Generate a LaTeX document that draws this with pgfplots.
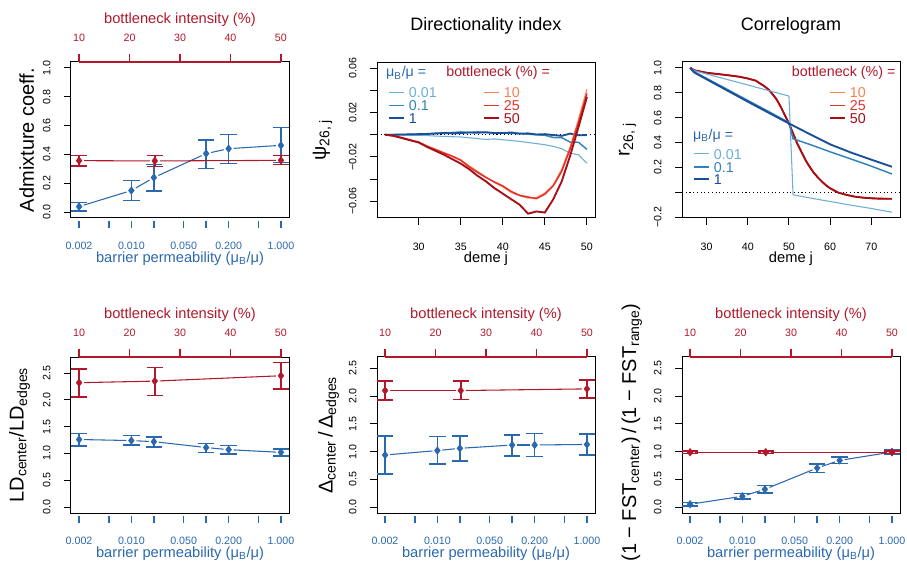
\documentclass[border=0pt]{standalone}
\usepackage{pgfplots}
\pgfplotsset{compat=1.18}
\usepackage{fontspec}
\setmainfont{Liberation Sans}
\definecolor{cb}{HTML}{2A68AF}
\definecolor{cr}{HTML}{B2182B}
\definecolor{b1}{HTML}{6BAED6}
\definecolor{b2}{HTML}{3182BD}
\definecolor{b3}{HTML}{1A4F96}
\definecolor{r1}{HTML}{FC7F4F}
\definecolor{r2}{HTML}{E5302A}
\definecolor{r3}{HTML}{A50F15}
\newcommand\tlf{\fontsize{8}{9.6}\selectfont}
\newcommand\alf{\fontsize{11}{13}\selectfont}
\newcommand\ylf{\fontsize{15}{18}\selectfont}
\newcommand\ttf{\fontsize{13.5}{16}\selectfont}
\newcommand\lgf{\fontsize{10.7}{12.8}\selectfont}
\pgfplotsset{
 every axis title shift=0pt,
 panel/.style={scale only axis, width=163.5pt, height=117pt, anchor=south west,
  axis line style={line width=0.75pt, black},
  tick align=outside, major tick length=5.25pt,
  every tick/.style={line width=0.75pt, black},
  tick label style={font=\tlf},
  xtick pos=left, ytick pos=left,
  scaled ticks=false,
  yticklabel style={rotate=90, anchor=center},
  yticklabel shift=12.95pt,
  xticklabel style={anchor=center},
  xticklabel shift=15.75pt,
  xlabel style={font=\alf, at={(axis description cs:0.5,-0.26)}, anchor=center},
  ylabel style={font=\ylf, at={(axis description cs:-0.222,0.5)}, anchor=center},
  minor tick num=0,
 },
 perm/.style={panel, xmin=0.0015594, xmax=1.2823, clip=false,
   xtick={0.002,0.005,0.01,0.02,0.05,0.1,0.2,0.5,1},
   xticklabels={0.002,,0.010,,0.050,,0.200,,1.000},
   xtick style={cb, line width=1pt, yshift=-2.25pt},
   xticklabel style={text=cb},
   xlabel={barrier permeability (μ\textsubscript{B}/μ)}, xlabel style={text=cb}},
 bott/.style={panel, xmin=8.4, xmax=51.6, clip=false, axis x line*=top, hide y axis,
   xtick pos=right, xticklabel pos=right,
   axis line style={draw=none},
   xtick={10,20,30,40,50}, xticklabels={10,20,30,40,50},
   xtick style={cr, line width=1pt}, major tick length=6.25pt,
   xticklabel style={text=cr}, xticklabel shift=11.95pt,
   xlabel={bottleneck intensity (\%)},
   xlabel style={text=cr, at={(axis description cs:0.5,1.27)}, anchor=center}},
 eb/.style={error bars/y dir=both, error bars/y explicit,
   error bars/error bar style={line width=1.1pt},
   error bars/error mark options={rotate=90, line width=1.1pt, mark size=6.2pt}},
 bpt/.style={cb, only marks, mark=diamond*, mark size=2.7pt, mark options={line width=0.6pt}, eb},
 rpt/.style={cr, only marks, mark=diamond*, mark size=2.7pt, mark options={line width=0.6pt}, eb},
}
% connecting segment with gaps at both ends (R type "b")
\newcommand\seg[5]{\addplot[#1, line width=0.8pt, shorten >=3.75pt, shorten <=3.75pt] coordinates {(#2,#3) (#4,#5)};}
\newcommand\topline{\draw[cr, line width=1pt] (rel axis cs:0.037037,1) -- (rel axis cs:0.962963,1);}
\begin{document}
\begin{tikzpicture}
\useasboundingbox (0,0) rectangle (680.25pt,420.75pt);

% ---------------- Panel 1: Admixture
\begin{axis}[xmode=log, perm, at={(53.25pt,257.25pt)}, ymin=-0.04, ymax=1.04,
  ytick={0,0.2,0.4,0.6,0.8,1}, yticklabels={0.0,0.2,0.4,0.6,0.8,1.0},
  ylabel={Admixture coeff.}, ylabel style={at={(axis description cs:-0.203,0.5)}}]
\seg{cb}{0.002}{0.039}{0.01}{0.150}
\seg{cb}{0.01}{0.150}{0.02}{0.240}
\seg{cb}{0.02}{0.240}{0.1}{0.406}
\seg{cb}{0.1}{0.406}{0.2}{0.440}
\seg{cb}{0.2}{0.440}{1}{0.463}
\addplot[bpt] coordinates {
 (0.002,0.039) += (0,0.030) -= (0,0.030)
 (0.01,0.150) += (0,0.069) -= (0,0.069)
 (0.02,0.240) += (0,0.092) -= (0,0.093)
 (0.1,0.406) += (0,0.094) -= (0,0.102)
 (0.2,0.440) += (0,0.099) -= (0,0.104)
 (1,0.463) += (0,0.122) -= (0,0.117)
};
\end{axis}
\begin{axis}[bott, at={(53.25pt,257.25pt)}, ymin=-0.04, ymax=1.04]
\topline
\seg{cr}{10}{0.357}{25}{0.355}
\seg{cr}{25}{0.355}{50}{0.359}
\addplot[rpt] coordinates {
 (10,0.357) += (0,0.037) -= (0,0.037)
 (25,0.355) += (0,0.037) -= (0,0.039)
 (50,0.359) += (0,0.035) -= (0,0.030)
};
\end{axis}

% ---------------- Panel 2: Directionality index
\begin{axis}[panel, at={(282.75pt,257.25pt)}, xmin=25.04, xmax=50.96, ymin=-0.0749, ymax=0.0654,
  xtick={30,35,40,45,50}, xticklabels={30,35,40,45,50}, xticklabel shift=16.25pt,
  ytick={-0.06,-0.04,-0.02,0,0.02,0.04,0.06}, yticklabels={−0.06,,−0.02,,0.02,,0.06},
  xlabel={deme j}, ylabel={ψ\textsubscript{26, j}},
  ylabel style={at={(axis description cs:-0.25,0.5)}},
  title={Directionality index}, title style={font=\ttf, at={(axis description cs:0.5,1.231)}, anchor=center}]
\addplot[black, dotted, line width=0.8pt] coordinates {(25.04,0) (50.96,0)};
\addplot[b1, line width=0.8pt] table {
26 0
27 -0.0001
28 -0.0002
29 -0.0004
30 -0.0006
31 -0.0008
32 -0.0012
33 -0.0015
34 -0.0018
35 -0.002
36 -0.0027
37 -0.0035
38 -0.0042
39 -0.0038
40 -0.0045
41 -0.0052
42 -0.006
43 -0.007
44 -0.008
45 -0.009
46 -0.0105
47 -0.0125
48 -0.0167
49 -0.018
50 -0.0257
};
\addplot[b2, line width=1.1pt] table {
26 0
27 0.0001
28 0.0001
29 0.0003
30 0.0005
31 0.0008
32 0.001
33 0.0018
34 0.002
35 0.0025
36 0.002
37 0.0025
38 0.002
39 0.0015
40 0.0015
41 0.0012
42 0.001
43 0.0005
44 0.0
45 -0.0005
46 -0.0025
47 -0.0027
48 -0.0066
49 -0.0068
50 -0.0132
};
\addplot[b3, line width=1.4pt] table {
26 0
27 0
28 0.0002
29 0.0003
30 0.0005
31 0.0007
32 0.0012
33 0.0015
34 0.0012
35 0.0015
36 0.002
37 0.0018
38 0.0022
39 0.0015
40 0.0015
41 0.002
42 0.001
43 0.0012
44 0.0002
45 0.0005
46 -0.0003
47 -0.001
48 0.001
49 -0.0005
50 -0.0003
};
\addplot[r1, line width=0.8pt] table {
26 0
27 -0.001
28 -0.0025
29 -0.0045
30 -0.0065
31 -0.010
32 -0.013
33 -0.016
34 -0.019
35 -0.0225
36 -0.028
37 -0.033
38 -0.038
39 -0.043
40 -0.047
41 -0.052
42 -0.055
43 -0.057
44 -0.0565
45 -0.0525
46 -0.045
47 -0.031
48 -0.011
49 0.014
50 0.041
};
\addplot[r2, line width=1.1pt] table {
26 0
27 -0.001
28 -0.0028
29 -0.005
30 -0.0068
31 -0.0105
32 -0.0135
33 -0.0165
34 -0.0195
35 -0.023
36 -0.029
37 -0.034
38 -0.0385
39 -0.0425
40 -0.046
41 -0.051
42 -0.0545
43 -0.056
44 -0.0575
45 -0.0535
46 -0.046
47 -0.033
48 -0.013
49 0.011
50 0.037
};
\addplot[r3, line width=1.4pt] table {
26 0
27 -0.001
28 -0.003
29 -0.005
30 -0.007
31 -0.011
32 -0.0145
33 -0.018
34 -0.022
35 -0.026
36 -0.031
37 -0.037
38 -0.042
39 -0.048
40 -0.053
41 -0.058
42 -0.063
43 -0.071
44 -0.069
45 -0.070
46 -0.058
47 -0.042
48 -0.019
49 0.007
50 0.034
};
\node[anchor=base west, inner sep=0, text=cb, font=\lgf] at (axis description cs:0.041,0.905) {μ\textsubscript{B}/μ =};
\node[anchor=base west, inner sep=0, text=b1, font=\lgf] at (axis description cs:0.055,0.773) {\rule[0.33em]{11.25pt}{0.8pt}\hspace{3.5pt}0.01};
\node[anchor=base west, inner sep=0, text=b2, font=\lgf] at (axis description cs:0.055,0.687) {\rule[0.33em]{11.25pt}{1.1pt}\hspace{3.5pt}0.1};
\node[anchor=base west, inner sep=0, text=b3, font=\lgf] at (axis description cs:0.055,0.604) {\rule[0.33em]{11.25pt}{1.4pt}\hspace{3.5pt}1};
\node[anchor=base west, inner sep=0, text=cr, font=\lgf] at (axis description cs:0.317,0.905) {bottleneck (\%) =};
\node[anchor=base west, inner sep=0, text=r1, font=\lgf] at (axis description cs:0.491,0.773) {\rule[0.33em]{11.25pt}{0.8pt}\hspace{3.5pt}10};
\node[anchor=base west, inner sep=0, text=r2, font=\lgf] at (axis description cs:0.491,0.687) {\rule[0.33em]{11.25pt}{1.1pt}\hspace{3.5pt}25};
\node[anchor=base west, inner sep=0, text=r3, font=\lgf] at (axis description cs:0.491,0.604) {\rule[0.33em]{11.25pt}{1.4pt}\hspace{3.5pt}50};
\end{axis}

% ---------------- Panel 3: Correlogram
\begin{axis}[panel, at={(511.5pt,257.25pt)}, xmin=24.04, xmax=76.96, ymin=-0.2064, ymax=1.0464,
  xtick={30,40,50,60,70}, xticklabels={30,40,50,60,70}, xticklabel shift=16.25pt,
  ytick={-0.2,0,0.2,0.4,0.6,0.8,1}, yticklabels={−0.2,,0.2,0.4,0.6,0.8,1.0},
  xlabel={deme j}, ylabel={r\textsubscript{26, j}},
  ylabel style={at={(axis description cs:-0.25,0.5)}},
  title={Correlogram}, title style={font=\ttf, at={(axis description cs:0.5,1.231)}, anchor=center}]
\addplot[black, dotted, line width=0.8pt] coordinates {(24.04,0) (76.96,0)};
\addplot[r1, line width=0.8pt] table {
26 1.0
27 0.98
30 0.96
35 0.941
38 0.928
40 0.914
42 0.896
43 0.874
44 0.853
45 0.826
46 0.789
47 0.746
48 0.687
49 0.62
50 0.553
51 0.473
52 0.393
53 0.326
54 0.26
55 0.206
56 0.158
57 0.12
58 0.086
59 0.056
60 0.032
62 -0.003
64 -0.021
66 -0.035
68 -0.043
70 -0.048
72 -0.051
75 -0.052
};
\addplot[r2, line width=1.1pt] table {
26 1.0
27 0.98
30 0.96
35 0.941
38 0.928
40 0.914
42 0.896
43 0.874
44 0.853
45 0.826
46 0.789
47 0.746
48 0.687
49 0.62
50 0.553
51 0.473
52 0.393
53 0.326
54 0.26
55 0.206
56 0.158
57 0.12
58 0.086
59 0.056
60 0.032
62 -0.003
64 -0.021
66 -0.035
68 -0.043
70 -0.048
72 -0.051
75 -0.052
};
\addplot[r3, line width=1.4pt] table {
26 1.0
27 0.98
30 0.96
35 0.941
38 0.928
40 0.914
42 0.896
43 0.874
44 0.853
45 0.826
46 0.789
47 0.746
48 0.687
49 0.62
50 0.553
51 0.473
52 0.393
53 0.326
54 0.26
55 0.206
56 0.158
57 0.12
58 0.086
59 0.056
60 0.032
62 -0.003
64 -0.021
66 -0.035
68 -0.043
70 -0.048
72 -0.051
75 -0.052
};
\addplot[b1, line width=0.8pt] table {
26 1.0
27 0.977
30 0.950
35 0.906
40 0.862
45 0.817
50 0.773
51 -0.02
55 -0.045
60 -0.074
65 -0.103
70 -0.13
75 -0.16
};
\addplot[b2, line width=1.1pt] table {
26 1.0
27 0.968
30 0.915
35 0.827
40 0.738
45 0.65
50 0.56
51 0.43
55 0.385
60 0.325
65 0.268
70 0.21
75 0.147
};
\addplot[b3, line width=1.4pt] table {
26 1.0
27 0.962
30 0.908
35 0.818
40 0.728
45 0.64
50 0.553
55 0.468
60 0.385
65 0.32
70 0.262
75 0.205
};
\node[anchor=base west, inner sep=0, text=cr, font=\lgf] at (axis description cs:0.503,0.905) {bottleneck (\%) =};
\node[anchor=base west, inner sep=0, text=r1, font=\lgf] at (axis description cs:0.679,0.773) {\rule[0.33em]{11.25pt}{0.8pt}\hspace{3.5pt}10};
\node[anchor=base west, inner sep=0, text=r2, font=\lgf] at (axis description cs:0.679,0.687) {\rule[0.33em]{11.25pt}{1.1pt}\hspace{3.5pt}25};
\node[anchor=base west, inner sep=0, text=r3, font=\lgf] at (axis description cs:0.679,0.604) {\rule[0.33em]{11.25pt}{1.4pt}\hspace{3.5pt}50};
\node[anchor=base west, inner sep=0, text=cb, font=\lgf] at (axis description cs:0.050,0.506) {μ\textsubscript{B}/μ =};
\node[anchor=base west, inner sep=0, text=b1, font=\lgf] at (axis description cs:0.055,0.378) {\rule[0.33em]{11.25pt}{0.8pt}\hspace{3.5pt}0.01};
\node[anchor=base west, inner sep=0, text=b2, font=\lgf] at (axis description cs:0.055,0.292) {\rule[0.33em]{11.25pt}{1.1pt}\hspace{3.5pt}0.1};
\node[anchor=base west, inner sep=0, text=b3, font=\lgf] at (axis description cs:0.055,0.212) {\rule[0.33em]{11.25pt}{1.4pt}\hspace{3.5pt}1};
\end{axis}

% ---------------- Panel 4: LD
\begin{axis}[xmode=log, perm, at={(53.25pt,36pt)}, ymin=-0.112, ymax=2.80,
  ytick={0,0.5,1,1.5,2,2.5}, yticklabels={0.0,0.5,1.0,1.5,2.0,2.5},
  ylabel={LD\textsubscript{center}/LD\textsubscript{edges}},
  ylabel style={at={(axis description cs:-0.236,0.5)}}]
\seg{cb}{0.002}{1.26}{0.01}{1.24}
\seg{cb}{0.01}{1.24}{0.02}{1.22}
\seg{cb}{0.02}{1.22}{0.1}{1.11}
\seg{cb}{0.1}{1.11}{0.2}{1.07}
\seg{cb}{0.2}{1.07}{1}{1.02}
\addplot[bpt] coordinates {
 (0.002,1.26) += (0,0.11) -= (0,0.12)
 (0.01,1.24) += (0,0.09) -= (0,0.08)
 (0.02,1.22) += (0,0.09) -= (0,0.10)
 (0.1,1.11) += (0,0.08) -= (0,0.09)
 (0.2,1.07) += (0,0.08) -= (0,0.08)
 (1,1.02) += (0,0.06) -= (0,0.07)
};
\end{axis}
\begin{axis}[bott, at={(53.25pt,36pt)}, ymin=-0.112, ymax=2.80]
\topline
\seg{cr}{10}{2.32}{25}{2.35}
\seg{cr}{25}{2.35}{50}{2.45}
\addplot[rpt] coordinates {
 (10,2.32) += (0,0.26) -= (0,0.27)
 (25,2.35) += (0,0.255) -= (0,0.266)
 (50,2.45) += (0,0.25) -= (0,0.25)
};
\end{axis}

% ---------------- Panel 5: Delta
\begin{axis}[xmode=log, perm, at={(282.75pt,36pt)}, ymin=-0.104, ymax=2.704,
  ytick={0,0.5,1,1.5,2,2.5}, yticklabels={0.0,0.5,1.0,1.5,2.0,2.5},
  ylabel={Δ\textsubscript{center}\,/\,Δ\textsubscript{edges}}]
\seg{cb}{0.002}{0.94}{0.01}{1.02}
\seg{cb}{0.01}{1.02}{0.02}{1.06}
\seg{cb}{0.02}{1.06}{0.1}{1.12}
\seg{cb}{0.1}{1.12}{0.2}{1.12}
\seg{cb}{0.2}{1.12}{1}{1.13}
\addplot[bpt] coordinates {
 (0.002,0.94) += (0,0.34) -= (0,0.34)
 (0.01,1.02) += (0,0.25) -= (0,0.24)
 (0.02,1.06) += (0,0.22) -= (0,0.23)
 (0.1,1.12) += (0,0.18) -= (0,0.20)
 (0.2,1.12) += (0,0.21) -= (0,0.21)
 (1,1.13) += (0,0.19) -= (0,0.19)
};
\end{axis}
\begin{axis}[bott, at={(282.75pt,36pt)}, ymin=-0.104, ymax=2.704]
\topline
\seg{cr}{10}{2.10}{25}{2.10}
\seg{cr}{25}{2.10}{50}{2.13}
\addplot[rpt] coordinates {
 (10,2.10) += (0,0.17) -= (0,0.17)
 (25,2.10) += (0,0.17) -= (0,0.16)
 (50,2.13) += (0,0.16) -= (0,0.16)
};
\end{axis}

% ---------------- Panel 6: FST
\begin{axis}[xmode=log, perm, at={(511.5pt,36pt)}, ymin=-0.104, ymax=2.704,
  ytick={0,0.5,1,1.5,2,2.5}, yticklabels={0.0,0.5,1.0,1.5,2.0,2.5},
  ylabel={(1 − FST\textsubscript{center})\,/\,(1 − FST\textsubscript{range})},
  ylabel style={at={(axis description cs:-0.23,0.516)}}]
\seg{cb}{0.002}{0.054}{0.01}{0.197}
\seg{cb}{0.01}{0.197}{0.02}{0.323}
\seg{cb}{0.02}{0.323}{0.1}{0.706}
\seg{cb}{0.1}{0.706}{0.2}{0.843}
\seg{cb}{0.2}{0.843}{1}{0.993}
\addplot[bpt] coordinates {
 (0.002,0.054) += (0,0.03) -= (0,0.03)
 (0.01,0.197) += (0,0.048) -= (0,0.053)
 (0.02,0.323) += (0,0.072) -= (0,0.066)
 (0.1,0.706) += (0,0.071) -= (0,0.078)
 (0.2,0.843) += (0,0.06) -= (0,0.06)
 (1,0.993) += (0,0.037) -= (0,0.036)
};
\end{axis}
\begin{axis}[bott, at={(511.5pt,36pt)}, ymin=-0.104, ymax=2.704]
\topline
\seg{cr}{10}{0.99}{25}{0.99}
\seg{cr}{25}{0.99}{50}{0.99}
\addplot[rpt] coordinates {
 (10,0.99) += (0,0.02) -= (0,0.02)
 (25,0.99) += (0,0.02) -= (0,0.02)
 (50,0.99) += (0,0.02) -= (0,0.02)
};
\end{axis}
\end{tikzpicture}
\end{document}
